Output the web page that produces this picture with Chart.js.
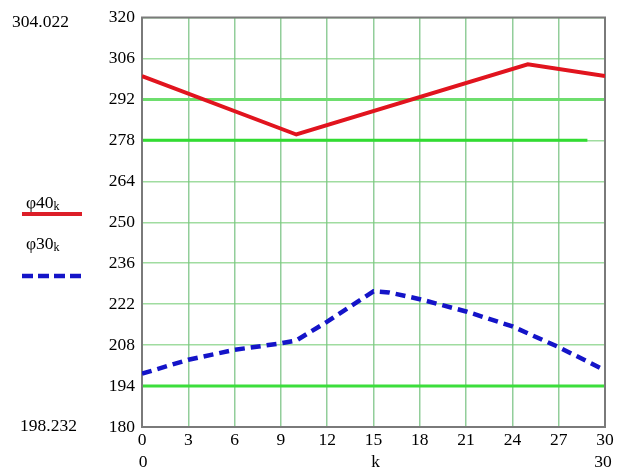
<!DOCTYPE html>
<html>
<head>
<meta charset="utf-8">
<script src="https://cdn.jsdelivr.net/npm/chart.js@4/dist/chart.umd.min.js"></script>
<style>
  html, body { margin: 0; padding: 0; background: #fff; }
  #wrap { width: 622px; height: 474px; position: relative; }
</style>
</head>
<body>
<div id="wrap"><canvas id="c" width="622" height="474"></canvas></div>
<script>
// φ40(k): piecewise-linear trace, vertices at the bend points
const kRed = [0, 10, 25, 30];
const phi40 = [300, 280, 304.022, 300];

// φ30(k): dashed trace
const kBlue = [0, 3, 6, 9, 10, 12, 15, 16, 18, 21, 24, 27, 30];
const phi30 = [198.232, 203, 206.4, 208.6, 209.6, 216, 226.4, 226, 223.7, 219.5, 214.4, 207.3, 199.4];

// axis ranges and tick steps
const xRange = [0, 30];
const xStep = 3;
const yRange = [180, 320];
const yStep = 14;

// horizontal marker lines
const markers = [292, 278, 194];

// readouts shown at the left
const upperReadout = '304.022';
const lowerReadout = '198.232';
const legendNames = ['\u03C640', '\u03C630'];
const xVarName = 'k';

const SERIF = '"Liberation Serif", "Times New Roman", serif';
const FONT_SIZE = 17.5;

const toPoints = (xs, ys) => xs.map((x, i) => ({ x: x, y: ys[i] }));

const decorations = {
  id: 'decorations',
  beforeDatasetsDraw(chart) {
    const { ctx, chartArea: a, scales } = chart;
    ctx.save();
    // marker lines
    const markerStyle = {
      292: { color: 'rgb(110,222,110)', right: a.right },
      278: { color: 'rgb(50,220,50)', right: a.left + (a.right - a.left) * 0.962 },
      194: { color: 'rgb(60,222,60)', right: a.right }
    };
    markers.forEach(v => {
      const y = scales.y.getPixelForValue(v);
      const st = markerStyle[v] || { color: 'rgb(60,220,60)', right: a.right };
      ctx.strokeStyle = st.color;
      ctx.lineWidth = 3;
      ctx.beginPath();
      ctx.moveTo(a.left, y);
      ctx.lineTo(st.right, y);
      ctx.stroke();
    });
    // plot frame
    ctx.strokeStyle = '#7a7a7a';
    ctx.lineWidth = 2;
    ctx.strokeRect(a.left, a.top, a.right - a.left, a.bottom - a.top);
    ctx.restore();
  },
  afterDraw(chart) {
    const { ctx, chartArea: a, scales } = chart;
    ctx.save();
    ctx.fillStyle = '#000';
    ctx.textBaseline = 'middle';
    ctx.font = FONT_SIZE + 'px ' + SERIF;

    // left readouts
    ctx.textAlign = 'left';
    ctx.fillText(upperReadout, 12, 22);
    ctx.fillText(lowerReadout, 20, 426);

    // legend entries
    const drawName = (name, x, y) => {
      ctx.font = FONT_SIZE + 'px ' + SERIF;
      ctx.textAlign = 'left';
      ctx.fillText(name, x, y);
      const w = ctx.measureText(name).width;
      ctx.font = '12px ' + SERIF;
      ctx.fillText('k', x + w, y + 4);
    };
    drawName(legendNames[0], 26, 203);
    ctx.strokeStyle = 'rgb(220,30,40)';
    ctx.lineWidth = 4;
    ctx.beginPath();
    ctx.moveTo(22, 214);
    ctx.lineTo(82, 214);
    ctx.stroke();

    drawName(legendNames[1], 26, 244);
    ctx.strokeStyle = 'rgb(20,20,200)';
    ctx.lineWidth = 4.5;
    ctx.setLineDash([11, 5]);
    ctx.beginPath();
    ctx.moveTo(22, 276);
    ctx.lineTo(82, 276);
    ctx.stroke();
    ctx.setLineDash([]);

    // x range row under the tick labels
    ctx.font = FONT_SIZE + 'px ' + SERIF;
    const yRow = 462;
    ctx.textAlign = 'center';
    ctx.fillText(String(xRange[0]), scales.x.getPixelForValue(xRange[0]) + 1, yRow);
    ctx.fillText(xVarName, (a.left + a.right) / 2 + 2, yRow);
    ctx.fillText(String(xRange[1]), scales.x.getPixelForValue(xRange[1]) - 2, yRow);
    ctx.restore();
  }
};

new Chart(document.getElementById('c'), {
  type: 'line',
  data: {
    datasets: [
      {
        label: legendNames[0],
        data: toPoints(kRed, phi40),
        borderColor: 'rgb(225,20,30)',
        borderWidth: 4,
        pointRadius: 0,
        tension: 0,
        fill: false
      },
      {
        label: legendNames[1],
        data: toPoints(kBlue, phi30),
        borderColor: 'rgb(20,20,200)',
        borderWidth: 4.5,
        borderDash: [10, 6],
        pointRadius: 0,
        tension: 0,
        fill: false
      }
    ]
  },
  options: {
    responsive: false,
    animation: false,
    layout: { padding: { left: 0, top: 15, right: 17, bottom: 0 } },
    plugins: {
      legend: { display: false },
      tooltip: { enabled: false }
    },
    scales: {
      x: {
        type: 'linear',
        min: xRange[0],
        max: xRange[1],
        ticks: {
          stepSize: xStep,
          color: '#000',
          font: { family: SERIF, size: FONT_SIZE },
          padding: 3,
          maxRotation: 0
        },
        grid: { color: 'rgba(110,190,120,0.75)', lineWidth: 1.5, drawTicks: false },
        border: { display: false },
        afterFit(scale) { scale.height = 47; }
      },
      y: {
        min: yRange[0],
        max: yRange[1],
        ticks: {
          stepSize: yStep,
          color: '#000',
          font: { family: SERIF, size: FONT_SIZE },
          padding: 7
        },
        grid: { color: 'rgba(120,205,120,0.7)', lineWidth: 1.5, drawTicks: false },
        border: { display: false },
        afterFit(scale) { scale.width = 142; }
      }
    }
  },
  plugins: [decorations]
});
</script>
</body>
</html>
